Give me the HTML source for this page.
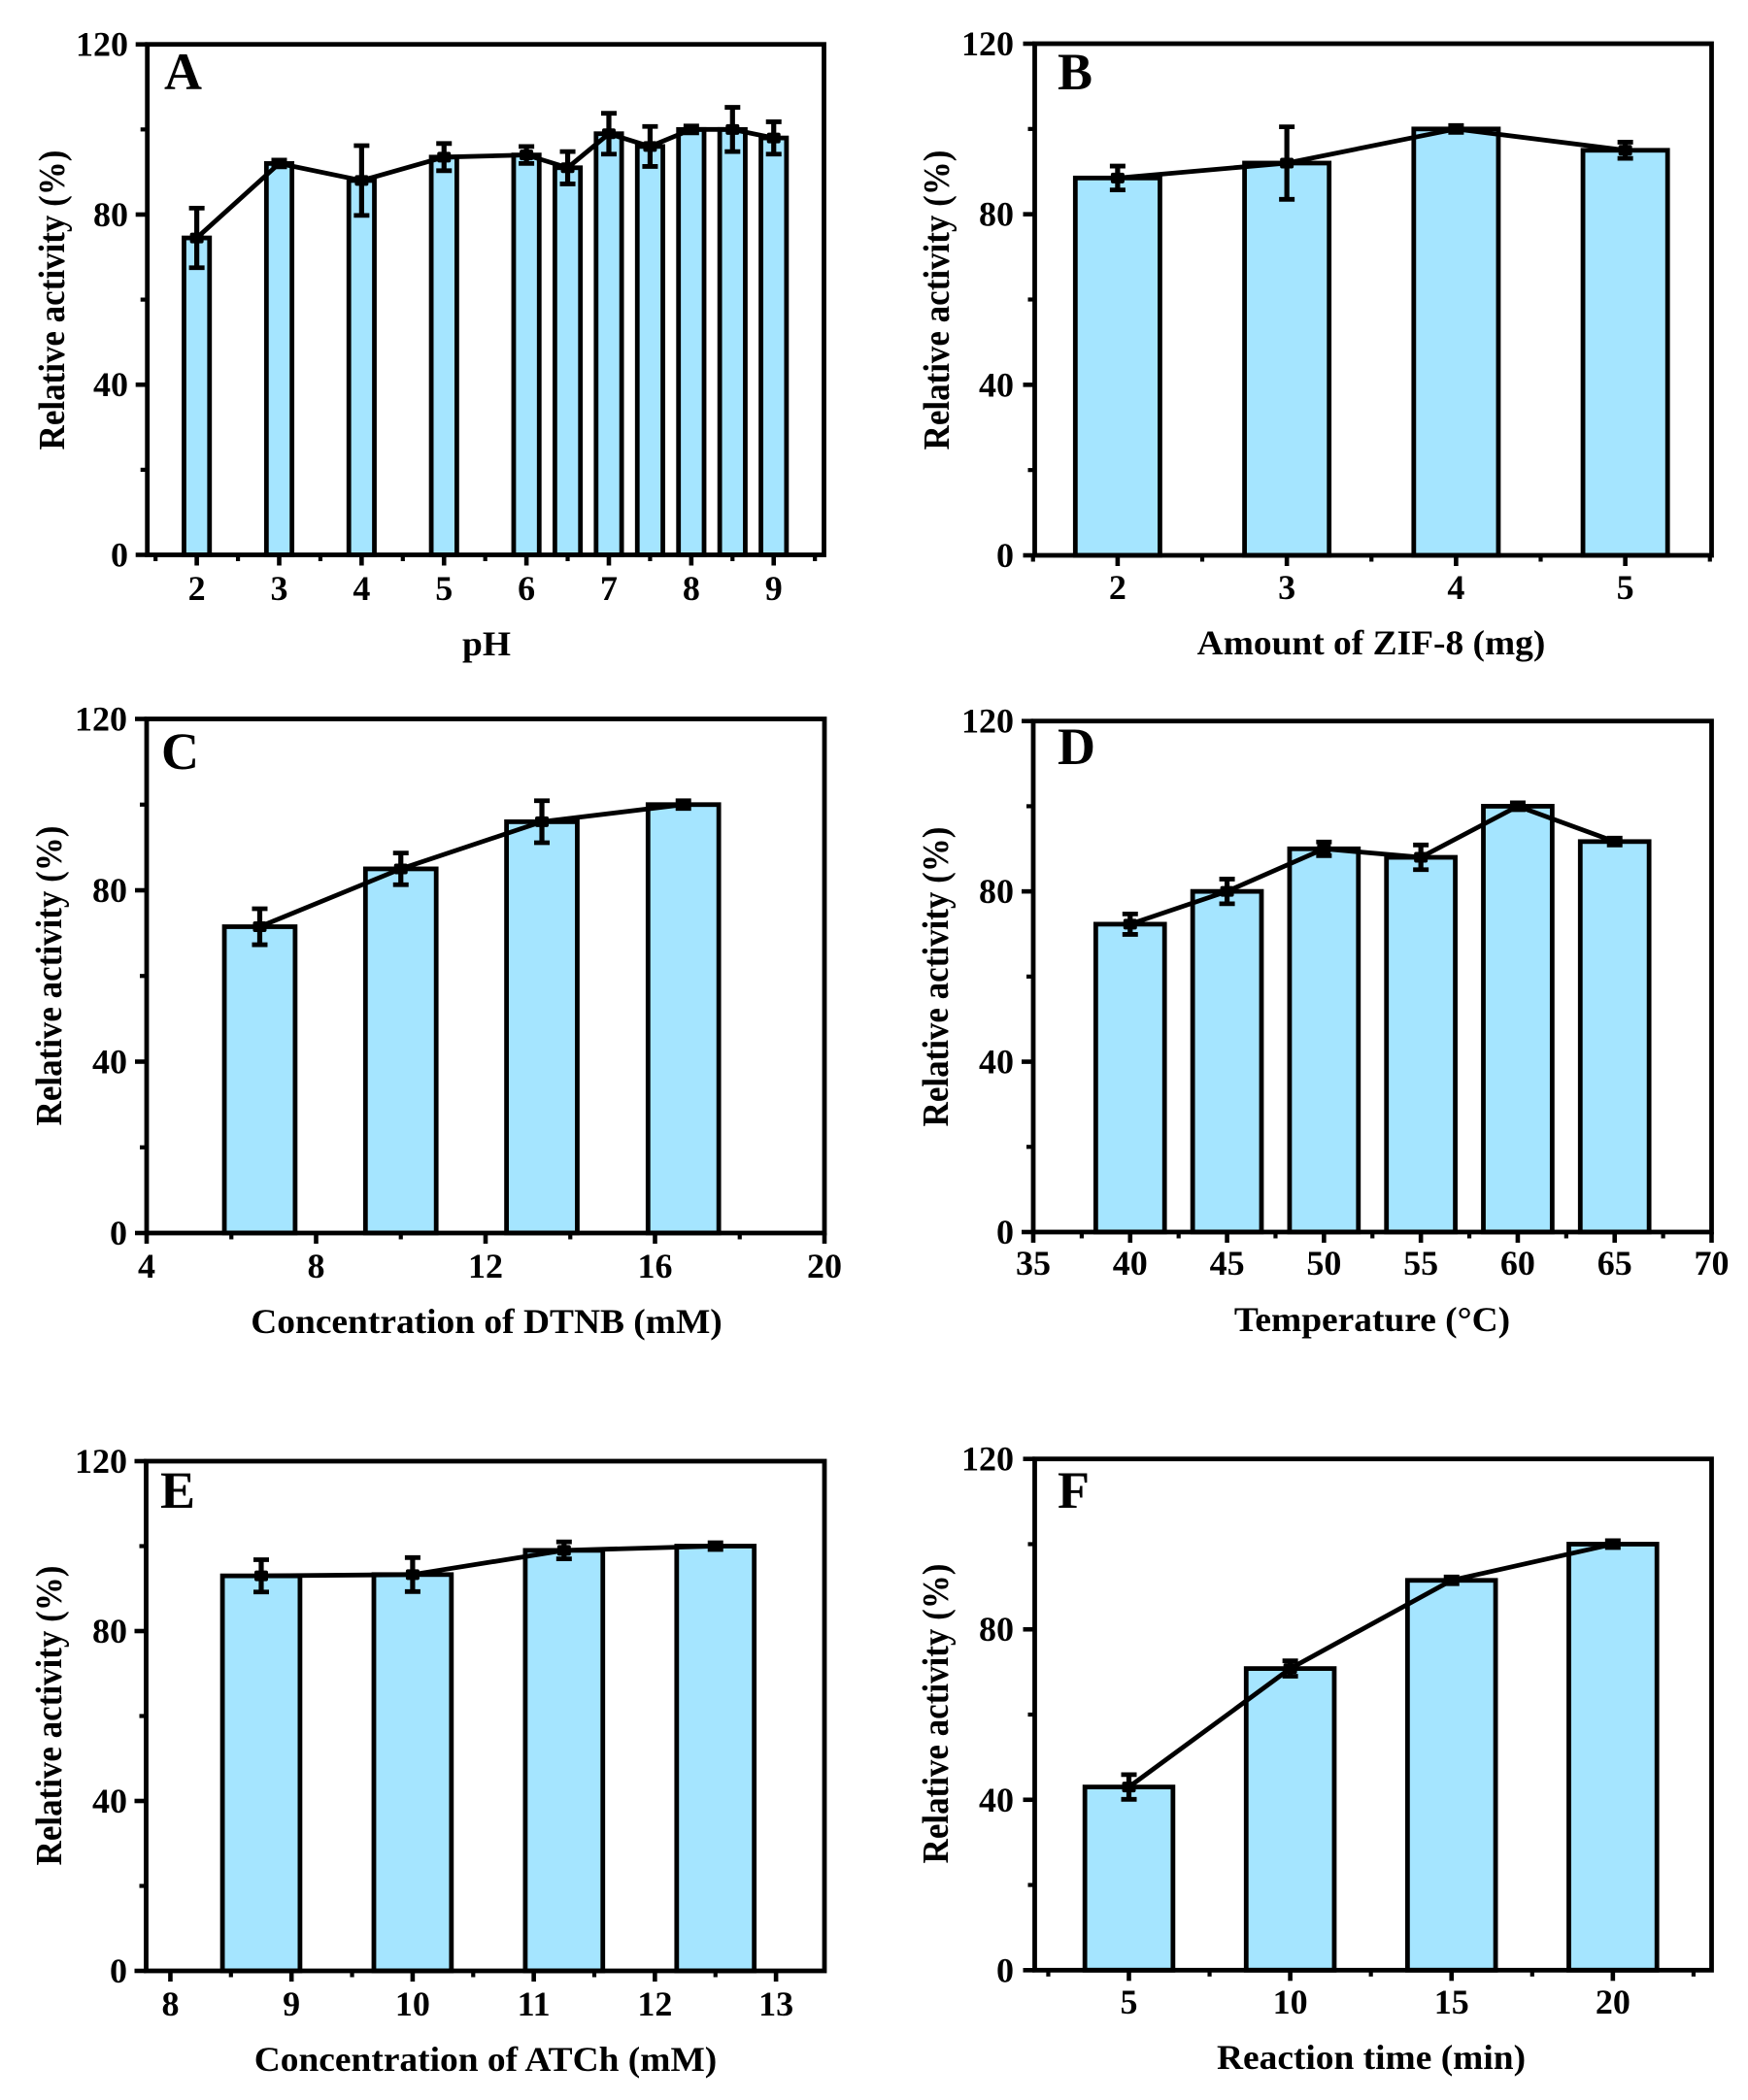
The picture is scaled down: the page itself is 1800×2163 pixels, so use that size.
<!DOCTYPE html>
<html lang="en">
<head>
<meta charset="utf-8">
<title>Relative activity optimisation panels</title>
<style>
html,body{margin:0;padding:0;background:#fff;}
#figure{display:block;width:1800px;height:2163px;background:#fff;}
text{font-family:"Liberation Serif",serif;font-weight:bold;fill:#000;}
</style>
</head>
<body>
<svg id="figure" xmlns="http://www.w3.org/2000/svg" width="1800" height="2163" viewBox="0 0 1800 2163"></svg>
<script>
// Shared y axis
var yMajorTicks = [0, 40, 80, 120];
var yMinorTicks = [20, 60, 100];
var yTitle = 'Relative activity (%)';

// Panel A
var aCategories = [2, 3, 4, 5, 6, 6.5, 7, 7.5, 8, 8.5, 9];
var aValues = [74.5, 92, 88, 93.5, 94, 91, 99, 96, 100, 100, 98];
var aErrors = [7, 0.8, 8.2, 3.2, 2, 3.8, 4.8, 4.7, 0.8, 5.2, 3.8];
var aTicks = [2, 3, 4, 5, 6, 7, 8, 9];
var aMinorTicks = [2.5, 3.5, 4.5, 5.5, 6.5, 7.5, 8.5, 9.5, 1.5];

// Panel B
var bCategories = [2, 3, 4, 5];
var bValues = [88.5, 92, 100, 95];
var bErrors = [2.8, 8.5, 0.8, 1.9];
var bTicks = [2, 3, 4, 5];
var bMinorTicks = [1.5, 2.5, 3.5, 4.5, 5.5];

// Panel C
var cCategories = [6.67, 10, 13.33, 16.67];
var cValues = [71.5, 85, 96, 100];
var cErrors = [4.2, 3.7, 4.9, 0.9];
var cTicks = [4, 8, 12, 16, 20];
var cMinorTicks = [6, 10, 14, 18];

// Panel D
var dCategories = [40, 45, 50, 55, 60, 65];
var dValues = [72.3, 80, 90, 88, 100, 91.7];
var dErrors = [2.4, 2.9, 1.6, 2.9, 0.8, 0.8];
var dTicks = [35, 40, 45, 50, 55, 60, 65, 70];
var dMinorTicks = [37.5, 42.5, 47.5, 52.5, 57.5, 62.5, 67.5];

// Panel E
var eCategories = [8.75, 10, 11.25, 12.5];
var eValues = [93, 93.3, 99, 100];
var eErrors = [3.8, 4, 2, 0.8];
var eTicks = [8, 9, 10, 11, 12, 13];
var eMinorTicks = [8.5, 9.5, 10.5, 11.5, 12.5];

// Panel F
var fCategories = [5, 10, 15, 20];
var fValues = [43, 70.8, 91.5, 100];
var fErrors = [2.9, 1.8, 0.8, 0.8];
var fTicks = [5, 10, 15, 20];
var fMinorTicks = [2.5, 7.5, 12.5, 17.5, 22.5];

// Panel frames and text placement (layout only)
var panels = [
  {id:'a', letter:'A', cats:aCategories, vals:aValues, errs:aErrors, ticks:aTicks, minor:aMinorTicks,
   xMin:1.40, xMax:9.61, barW:0.31, left:151.7, right:848.5, top:45.7, bottom:571.5,
   xTitle:'pH', xTitleX:501, xTitleY:675, tickY:618, yTitleX:66, yTitleY:309, yLabelX:132, letterX:169, letterY:92},
  {id:'b', letter:'B', cats:bCategories, vals:bValues, errs:bErrors, ticks:bTicks, minor:bMinorTicks,
   xMin:1.51, xMax:5.51, barW:0.5, left:1065.5, right:1762.5, top:45, bottom:572,
   xTitle:'Amount of ZIF-8 (mg)', xTitleX:1412, xTitleY:674, tickY:617, yTitleX:977, yTitleY:309, yLabelX:1044, letterX:1089, letterY:92},
  {id:'c', letter:'C', cats:cCategories, vals:cValues, errs:cErrors, ticks:cTicks, minor:cMinorTicks,
   xMin:4, xMax:20, barW:1.67, left:151, right:849, top:740.5, bottom:1270,
   xTitle:'Concentration of DTNB (mM)', xTitleX:501, xTitleY:1373, tickY:1316, yTitleX:63, yTitleY:1005, yLabelX:131, letterX:166, letterY:792},
  {id:'d', letter:'D', cats:dCategories, vals:dValues, errs:dErrors, ticks:dTicks, minor:dMinorTicks,
   xMin:35, xMax:70, barW:3.55, left:1064, right:1762.5, top:742.7, bottom:1269,
   xTitle:'Temperature (\u00B0C)', xTitleX:1413, xTitleY:1371, tickY:1313, yTitleX:976, yTitleY:1006, yLabelX:1044, letterX:1089, letterY:787},
  {id:'e', letter:'E', cats:eCategories, vals:eValues, errs:eErrors, ticks:eTicks, minor:eMinorTicks,
   xMin:7.8, xMax:13.4, barW:0.64, left:150.5, right:849, top:1505, bottom:2030,
   xTitle:'Concentration of ATCh (mM)', xTitleX:500, xTitleY:2133, tickY:2076, yTitleX:63, yTitleY:1767, yLabelX:131, letterX:165, letterY:1553},
  {id:'f', letter:'F', cats:fCategories, vals:fValues, errs:fErrors, ticks:fTicks, minor:fMinorTicks,
   xMin:2.08, xMax:23.06, barW:2.73, left:1065.5, right:1762.5, top:1502.7, bottom:2029.3,
   xTitle:'Reaction time (min)', xTitleX:1412, xTitleY:2131, tickY:2074, yTitleX:976, yTitleY:1765, yLabelX:1044, letterX:1089, letterY:1553}
];

var NS = 'http://www.w3.org/2000/svg';
var svg = document.getElementById('figure');

function mk(tag, attrs, parent) {
  var el = document.createElementNS(NS, tag);
  for (var k in attrs) { el.setAttribute(k, attrs[k]); }
  parent.appendChild(el);
  return el;
}

function drawPanel(p) {
  var xScale = function (v) { return p.left + (v - p.xMin) / (p.xMax - p.xMin) * (p.right - p.left); };
  var yScale = function (v) { return p.bottom - v / 120 * (p.bottom - p.top); };

  var g = mk('g', {}, svg);
  
  

  // bars
  var barsG = mk('g', {}, g);
  
  
  p.cats.forEach(function (c, i) {
    var x0 = xScale(c - p.barW / 2), x1 = xScale(c + p.barW / 2), y = yScale(p.vals[i]);
    var bar = mk('rect', {x: x0, y: y, width: x1 - x0, height: p.bottom - y, fill: '#A5E5FF', stroke: '#000', 'stroke-width': 4.8}, barsG);
    
    
  });

  // connecting line
  var pts = p.cats.map(function (c, i) { return xScale(c) + ',' + yScale(p.vals[i]); }).join(' ');
  var line = mk('polyline', {points: pts, fill: 'none', stroke: '#000', 'stroke-width': 4.8, 'stroke-linejoin': 'round'}, g);
  
  

  // error bars and markers
  p.cats.forEach(function (c, i) {
    var cx = xScale(c), hi = yScale(p.vals[i] + p.errs[i]), lo = yScale(p.vals[i] - p.errs[i]), cy = yScale(p.vals[i]);
    var eg = mk('g', {stroke: '#000'}, g);
    
    
    mk('line', {x1: cx, x2: cx, y1: hi, y2: lo, 'stroke-width': 5.2}, eg);
    mk('line', {x1: cx - 8, x2: cx + 8, y1: hi, y2: hi, 'stroke-width': 4.8}, eg);
    mk('line', {x1: cx - 8, x2: cx + 8, y1: lo, y2: lo, 'stroke-width': 4.8}, eg);
    var m = mk('rect', {x: cx - 7, y: cy - 5.5, width: 14, height: 11, rx: 2, fill: '#000', stroke: 'none'}, g);
    
    
  });

  // y ticks
  yMajorTicks.forEach(function (v) {
    var t = mk('line', {x1: p.left - 12, x2: p.left, y1: yScale(v), y2: yScale(v), stroke: '#000', 'stroke-width': 4.6}, g);
    
    
    var l = mk('text', {x: p.yLabelX, y: yScale(v) + 12, 'text-anchor': 'end', 'font-size': 36}, g);
    l.textContent = String(v);
    
    
  });
  yMinorTicks.forEach(function (v) {
    var t = mk('line', {x1: p.left - 7, x2: p.left, y1: yScale(v), y2: yScale(v), stroke: '#000', 'stroke-width': 4.2}, g);
    
    
  });

  // x ticks
  p.ticks.forEach(function (v) {
    var t = mk('line', {x1: xScale(v), x2: xScale(v), y1: p.bottom, y2: p.bottom + 11, stroke: '#000', 'stroke-width': 4.6}, g);
    
    
    var l = mk('text', {x: xScale(v), y: p.tickY, 'text-anchor': 'middle', 'font-size': 36}, g);
    l.textContent = String(v);
    
    
  });
  p.minor.forEach(function (v) {
    var t = mk('line', {x1: xScale(v), x2: xScale(v), y1: p.bottom, y2: p.bottom + 6.5, stroke: '#000', 'stroke-width': 4.2}, g);
    
    
  });

  // frame
  var frame = mk('rect', {x: p.left, y: p.top, width: p.right - p.left, height: p.bottom - p.top, fill: 'none', stroke: '#000', 'stroke-width': 4.8}, g);
  
  

  // titles
  var xt = mk('text', {x: 0, y: 0, 'text-anchor': 'middle', 'font-size': 36,
    transform: 'translate(' + p.xTitleX + ' ' + p.xTitleY + ') scale(1.04 1)'}, g);
  xt.textContent = p.xTitle;
  
  

  var yt = mk('text', {x: 0, y: 0, 'text-anchor': 'middle', 'font-size': 35,
    transform: 'translate(' + p.yTitleX + ' ' + p.yTitleY + ') scale(1.08 1) rotate(-90)'}, g);
  yt.textContent = yTitle;
  
  

  var letter = mk('text', {x: p.letterX, y: p.letterY, 'font-size': 54}, g);
  letter.textContent = p.letter;
  
  
}

panels.forEach(drawPanel);
</script>
</body>
</html>
